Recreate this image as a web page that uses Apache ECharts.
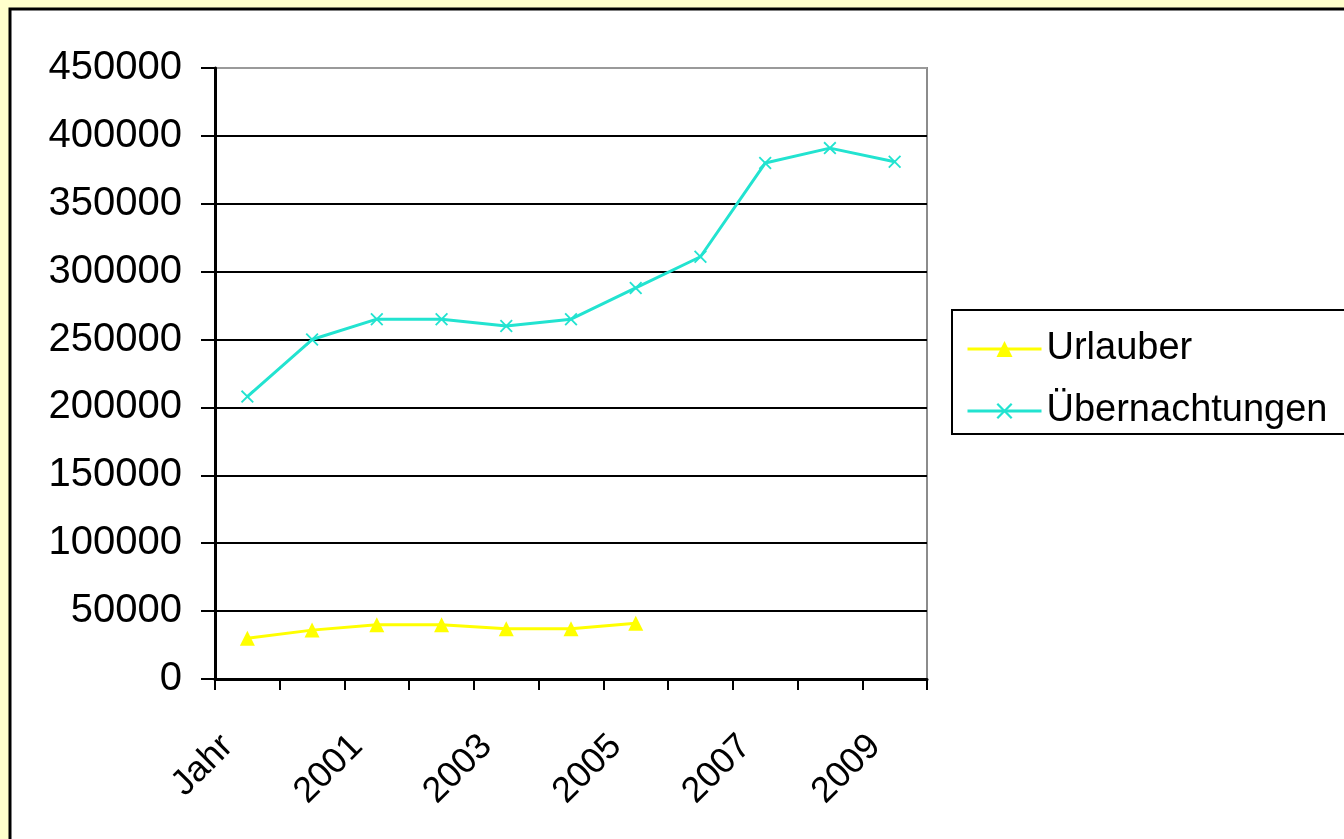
<!DOCTYPE html>
<html>
<head>
<meta charset="utf-8">
<title>Urlauber und Übernachtungen</title>
<script src="https://cdn.jsdelivr.net/npm/echarts@6/dist/echarts.min.js"></script>
<style>
  html, body { margin: 0; padding: 0; background: #FFFFCC; }
  #chart { width: 1344px; height: 839px; }
</style>
</head>
<body>
<div id="chart"></div>
<script>
// Kategorien der x-Achse (erste Spalte trägt die Überschrift "Jahr")
const categories = ['Jahr', '2000', '2001', '2002', '2003', '2004', '2005', '2006', '2007', '2008', '2009'];

// Anzahl Urlauber (Werte bis 2005)
const urlauber = [30000, 36000, 40000, 40000, 37000, 37000, 41000];

// Anzahl Übernachtungen
const uebernachtungen = [208000, 250000, 265000, 265000, 260000, 265000, 288000, 311000, 380000, 391000, 381000];

// Skala der y-Achse
const yMin = 0;
const yMax = 450000;
const yStep = 50000;

const FONT = '"Liberation Sans", Arial, Helvetica, sans-serif';

// Kreuz als gefülltes Symbol
const crossSymbol = 'path://M0,1 L1,0 L5,4 L9,0 L10,1 L6,5 L10,9 L9,10 L5,6 L1,10 L0,9 L4,5 Z';

const chart = echarts.init(document.getElementById('chart'), null, { renderer: 'canvas' });

// Gitterlinien schwarz, die oberste Linie (Rand der Zeichenfläche) grau
const gridLineColors = [];
for (let v = yMin; v <= yMax; v += yStep) {
  gridLineColors.push(v === yMax ? '#9a9a9a' : '#000000');
}

chart.setOption({
  backgroundColor: '#FFFFCC',
  animation: false,
  graphic: {
    elements: [
      {
        type: 'rect',
        z: -10,
        silent: true,
        shape: { x: 10, y: 9, width: 1420, height: 900 },
        style: { fill: '#FFFFFF', stroke: '#000000', lineWidth: 3 }
      }
    ]
  },
  grid: {
    left: 215,
    top: 68,
    right: 417,
    bottom: 160,
    show: true,
    backgroundColor: 'transparent',
    borderColor: '#8c8c8c',
    borderWidth: 2
  },
  legend: {
    orient: 'vertical',
    left: 952,
    top: 310,
    padding: [19, 30, 3, 14],
    itemWidth: 74,
    itemHeight: 20,
    itemGap: 22,
    borderColor: '#000000',
    borderWidth: 2,
    backgroundColor: '#FFFFFF',
    lineStyle: { width: 3 },
    textStyle: { fontFamily: FONT, fontSize: 38, color: '#000000', lineHeight: 40, padding: [0, 0, 0, 0] },
    data: ['Urlauber', 'Übernachtungen']
  },
  xAxis: {
    type: 'category',
    data: categories,
    boundaryGap: true,
    axisLine: { show: true, lineStyle: { color: '#000000', width: 3 } },
    axisTick: { show: true, interval: 0, length: 11, lineStyle: { color: '#000000', width: 2 } },
    axisLabel: {
      interval: 1,
      rotate: 45,
      margin: 42,
      padding: [0, 28, 0, 0],
      fontFamily: FONT,
      fontSize: 36,
      color: '#000000'
    },
    splitLine: { show: false }
  },
  yAxis: {
    type: 'value',
    min: yMin,
    max: yMax,
    interval: yStep,
    axisLine: { show: true, lineStyle: { color: '#000000', width: 3 } },
    axisTick: { show: true, length: 14, lineStyle: { color: '#000000', width: 2 } },
    axisLabel: {
      margin: 33,
      padding: [6, 0, 0, 0],
      fontFamily: FONT,
      fontSize: 40,
      color: '#000000',
      formatter: function (v) { return String(v); }
    },
    splitLine: { show: true, lineStyle: { color: gridLineColors, width: 2 } }
  },
  series: [
    {
      name: 'Urlauber',
      type: 'line',
      data: urlauber,
      symbol: 'triangle',
      symbolSize: 15,
      showAllSymbol: true,
      lineStyle: { color: '#FFFF00', width: 3 },
      itemStyle: { color: '#FFFF00' },
      z: 3
    },
    {
      name: 'Übernachtungen',
      type: 'line',
      data: uebernachtungen,
      symbol: crossSymbol,
      symbolSize: 13,
      showAllSymbol: true,
      lineStyle: { color: '#22E3D0', width: 3 },
      itemStyle: { color: '#22E3D0' },
      z: 3
    }
  ]
});
</script>
</body>
</html>
